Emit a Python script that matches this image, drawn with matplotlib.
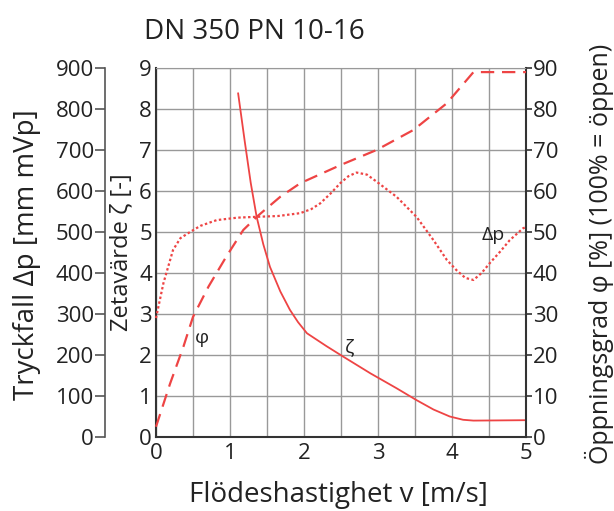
import numpy as np
import matplotlib.pyplot as plt
from matplotlib.ticker import MultipleLocator

plt.rcParams['font.family'] = ['Open Sans', 'DejaVu Sans']

# Tryckfall dp [mm mVp] (dotted)
dp_v = [0, 0.1, 0.23, 0.33, 0.46, 0.6, 0.82, 1.1, 1.36, 1.65, 1.95, 2.1, 2.22, 2.36, 2.49,
        2.6, 2.71, 2.85, 2.98, 3.25, 3.52, 3.75, 3.93, 4.06, 4.18, 4.29, 4.4, 4.51,
        4.65, 4.78, 4.96, 5.0]
dp_val = [290, 375, 456, 485, 500, 515, 529, 535, 537, 539, 546, 556, 570, 594, 619,
          636, 645, 640, 623, 586, 537, 480, 432, 407, 388, 383, 400, 424,
          452, 480, 509, 512]

# Zetavarde zeta [-] (solid)
zeta_v = [1.11, 1.2, 1.28, 1.36, 1.45, 1.54, 1.68, 1.81, 1.92, 2.04, 2.3, 2.53, 2.9,
          3.25, 3.52, 3.75, 3.97, 4.15, 4.29, 5.0]
zeta_val = [8.38, 7.2, 6.2, 5.37, 4.7, 4.15, 3.55, 3.1, 2.8, 2.53, 2.22, 1.96, 1.55,
            1.19, 0.9, 0.67, 0.5, 0.42, 0.4, 0.41]

# Oppningsgrad phi [%] (dashed)
phi_v = [0, 0.19, 0.37, 0.5, 0.71, 0.95, 1.18, 1.38, 1.68, 1.95, 2.49, 2.98, 3.48,
         3.93, 4.29, 5.0]
phi_val = [2.5, 13, 22, 29.3, 36.7, 44, 50.5, 54, 58.6, 61.9, 66.3, 70, 74.9,
           81.4, 89, 89]

red = '#ee4444'
dark = '#333333'
txt = '#222222'
W, H = 614, 511

fig = plt.figure(figsize=(W / 100, H / 100), dpi=100)
ax = fig.add_axes([156 / W, (H - 437) / H, 370 / W, 369 / H])
ax.set_xlim(0, 5)
ax.set_ylim(0, 9)
ax.xaxis.set_major_locator(MultipleLocator(1))
ax.xaxis.set_minor_locator(MultipleLocator(0.5))
ax.yaxis.set_major_locator(MultipleLocator(1))
ax.grid(True, which='both', axis='x', color='#999999', linewidth=1)
ax.grid(True, which='major', axis='y', color='#999999', linewidth=1)
ax.tick_params(axis='both', which='both', length=0, labelsize=16, colors=txt)
ax.tick_params(axis='x', pad=4)
ax.tick_params(axis='y', pad=3)
for s in ['left', 'bottom', 'right']:
    ax.spines[s].set_color(dark)
    ax.spines[s].set_linewidth(1.5)
ax.spines['top'].set_color('#999999')

# right axis: opening degree
ax2 = ax.twinx()
ax2.set_ylim(0, 90)
ax2.yaxis.set_major_locator(MultipleLocator(10))
ax2.tick_params(axis='y', length=4, width=1.2, color=dark, labelsize=16, colors=txt, pad=1)
ax2.tick_params(axis='y', color=dark)
for s in ['left', 'bottom', 'top', 'right']:
    ax2.spines[s].set_visible(False)

# far-left axis: pressure drop
ax3 = ax.twinx()
ax3.set_ylim(0, 900)
ax3.yaxis.set_major_locator(MultipleLocator(100))
ax3.yaxis.set_ticks_position('left')
ax3.spines['left'].set_position(('axes', -(156 - 105) / 370))
ax3.spines['left'].set_color('#555555')
ax3.spines['left'].set_linewidth(1.2)
for s in ['bottom', 'top', 'right']:
    ax3.spines[s].set_visible(False)
ax3.tick_params(axis='y', length=7, width=1.2, color='#555555', labelsize=16, colors=txt, pad=1)
ax3.tick_params(axis='y', color='#555555')

ax3.plot(dp_v, dp_val, color=red, linewidth=1.6, linestyle=(0, (1.1, 1.1)), clip_on=False)
ax.plot(zeta_v, zeta_val, color=red, linewidth=1.3, clip_on=False)
ax2.plot(phi_v, phi_val, color=red, linewidth=1.6, linestyle=(0, (6, 3.5)), clip_on=False)

ax.text(0.62, 2.41, 'φ', fontsize=14, ha='center', va='center', color=txt)
ax.text(2.62, 2.2, 'ζ', fontsize=14, ha='center', va='center', color=txt)
ax.text(4.56, 4.93, 'Δp', fontsize=14, ha='center', va='center', color=txt)

fig.text(254 / W, 1 - 32 / H, 'DN 350 PN 10-16', fontsize=20, ha='center', va='center', color=txt)
fig.text(338 / W, 1 - 495 / H, 'Flödeshastighet v [m/s]', fontsize=20, ha='center', va='center', color=txt)
fig.text(27 / W, 1 - 255 / H, 'Tryckfall Δp [mm mVp]', fontsize=20, rotation=90,
         ha='center', va='center', color=txt)
fig.text(121 / W, 1 - 252 / H, 'Zetavärde ζ [-]', fontsize=17, rotation=90,
         ha='center', va='center', color=txt)
fig.text(599 / W, 1 - 254 / H, 'Öppningsgrad φ [%] (100% = öppen)', fontsize=18, rotation=90,
         ha='center', va='center', color=txt)

fig.savefig('out.png', dpi=100)
